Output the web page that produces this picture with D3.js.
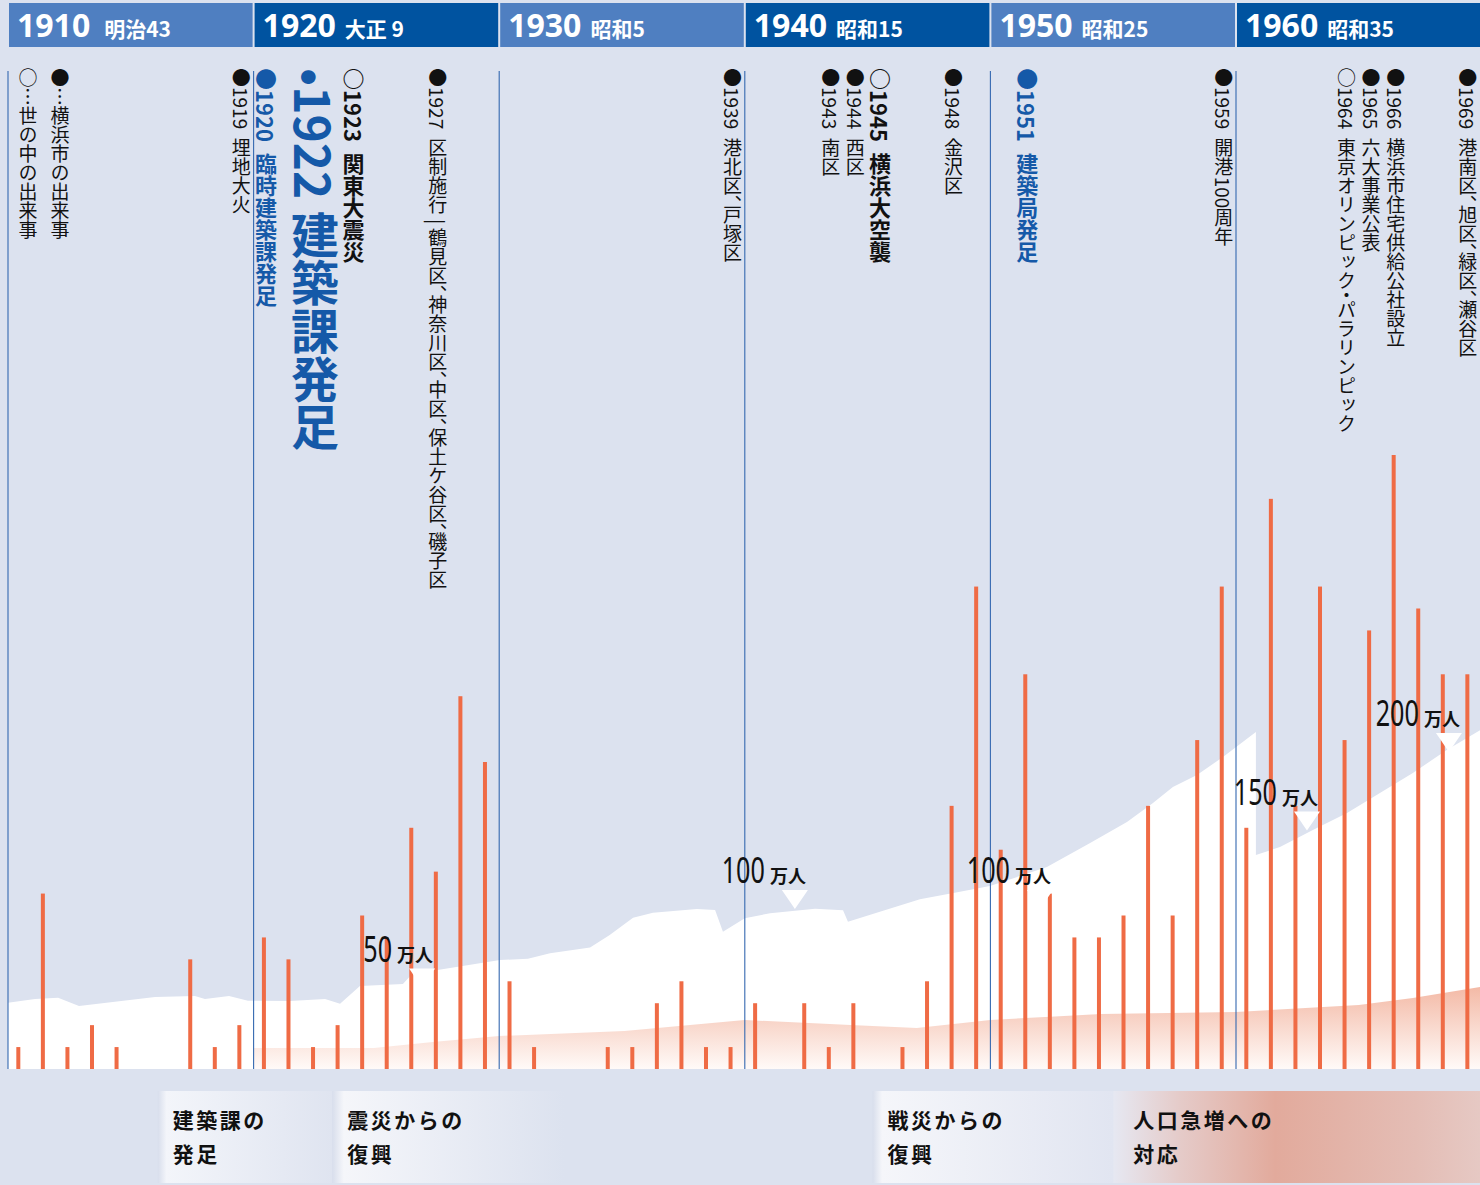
<!DOCTYPE html>
<html><head><meta charset="utf-8">
<script src="https://cdn.jsdelivr.net/npm/d3@7"></script>
<style>
body{margin:0;background:#dce2ef;}
svg{display:block;}
</style></head><body>
<svg id="chart" width="1480" height="1185"></svg>
<script>
// ---------------- DATA ----------------
const decades = [1910, 1920, 1930, 1940, 1950, 1960];
const eraLabels = ["明治43", "大正 9", "昭和5", "昭和15", "昭和25", "昭和35"];

const barYears = d3.range(1910, 1970);
const barCounts = [1,8,1,2,1,0,0,5,1,2, 6,5,1,2,7,6,11,9,17,14,
                   4,1,0,0,1,1,3,4,1,1, 3,0,3,1,3,0,1,4,12,22,
                   10,18,8,6,6,7,12,7,15,22, 11,26,12,22,15,20,28,21,18,18];

// population (万人) outline
const popYears  = [1910.0,1911.1,1912.04,1912.89,1915.99,1917.61,1918.02,1919.0,1919.77,1921.48,1922.91,1923.52,1924.33,1926.08,1926.49,1927.3,
                   1930.03,1931.17,1932.07,1933.7,1934.5,1935.45,1936.26,1938.05,1938.79,1939.11,1940.0,1941.03,1942.86,1944.0,1944.2,1945.5,1947.13,1948.76,
                   1949.98,1952.3,1954.06,1955.56,1956.62,1957.43,1958.41,1959.47,1960.81,1960.81,1961.79,1963.13,1964.52,1965.86,1967.2,1968.58,1969.95];
const popValues = [40.3,42.7,43.5,38.2,43.9,44.6,42.7,44.6,41.6,41.4,42.7,39.7,51.0,52.2,59.2,60.7,
                   67.5,68.3,71.8,75.4,83.4,94.5,97.6,100.0,99.4,85.5,94.1,97.3,100.2,99.2,91.9,98.3,106.2,111.0,
                   114.6,126.8,142.0,155.4,167.5,177.7,185.4,196.8,212.7,134.4,139.5,150.3,161.1,173.9,186.6,201.3,214.0];

// lower shaded series
const subYears  = [1920.0,1924.9,1927.3,1930.0,1935.1,1940.0,1944.3,1947.0,1950.0,1954.5,1960.0,1965.0,1967.2,1969.95];
const subValues = [21,21,27,33,38,49,44,41,49,55,57,64,71,82];

// population milestones
const markValues = [50, 100, 100, 150, 200];
const markYears  = [1926.86, 1942.04, 1952.02, 1962.89, 1968.67];

// events
const eventYears = [1919,1920,1922,1923,1927,1939,1943,1944,1945,1948,1951,1959,1964,1965,1966,1969];
const eventKinds = ["city","bureau","bureauMajor","worldMajor","city","city","city","city","worldMajor","city","bureau","city","world","city","city","city"];
const eventTexts = ["埋地大火","臨時建築課発足","建築課発足","関東大震災",
  "区制施行 | 鶴見区、神奈川区、中区、保土ケ谷区、磯子区","港北区、戸塚区","南区","西区","横浜大空襲","金沢区",
  "建築局発足","開港100周年","東京オリンピック・パラリンピック","六大事業公表","横浜市住宅供給公社設立","港南区、旭区、緑区、瀬谷区"];

const legendTexts = ["○…世の中の出来事", "●…横浜市の出来事"];

// phases
const phaseLines = [["建築課の","発足"],["震災からの","復興"],["戦災からの","復興"],["人口急増への","対応"]];
const phaseStart = [1916.1, 1923.2, 1945.2, 1955.0];
const phaseEnd   = [1923.2, 1935.0, 1955.0, 1970.0];

// ---------------- LAYOUT ----------------
const W = 1480, H = 1185;
const plotTop = 71, plotBottom = 1069;
const jp = "'Noto Sans CJK JP','Noto Sans',sans-serif";
const blue = "#1559a8", orange = "#ef6b45";

const svg = d3.select("#chart");
const x = d3.scaleLinear().domain([1910, 1970]).range([8, 1481.6]);
const yBar = d3.scaleLinear().domain([0, 28]).range([plotBottom, 455]);
const yPop = d3.scaleLinear().domain([0, 200]).range([1066, 752]);
const ySub = d3.scaleLinear().domain([0, 100]).range([plotBottom, 969]);

svg.append("rect").attr("width", W).attr("height", H).attr("fill", "#dce2ef");

const defs = svg.append("defs");
const pg = defs.append("linearGradient").attr("id","subGrad").attr("gradientUnits","userSpaceOnUse")
  .attr("x1",0).attr("x2",0).attr("y1",985).attr("y2",plotBottom);
pg.append("stop").attr("offset","0").attr("stop-color","#f3b8a4");
pg.append("stop").attr("offset","1").attr("stop-color","#fffaf8");

// population area (white)
const popData = popYears.map((yr,i)=>({year:yr, value:popValues[i]}));
svg.append("path").datum(popData)
  .attr("d", d3.area().x(d=>x(d.year)).y0(plotBottom).y1(d=>yPop(d.value)))
  .attr("fill", "#ffffff");

// lower series area
const subData = subYears.map((yr,i)=>({year:yr, value:subValues[i]}));
svg.append("path").datum(subData)
  .attr("d", d3.area().x(d=>x(d.year)).y0(plotBottom).y1(d=>ySub(d.value)))
  .attr("fill", "url(#subGrad)");

// decade lines
svg.append("g").selectAll("line").data(decades).join("line")
  .attr("x1", d=>x(d)).attr("x2", d=>x(d))
  .attr("y1", plotTop).attr("y2", plotBottom)
  .attr("stroke", "#3468b0").attr("stroke-width", 1.1);

// bars
svg.append("g").selectAll("rect").data(barYears.map((yr,i)=>({year:yr, n:barCounts[i]})).filter(d=>d.n>0)).join("rect")
  .attr("x", d=>x(d.year+0.42)-2).attr("width", 4)
  .attr("y", d=>yBar(d.n)).attr("height", d=>plotBottom - yBar(d.n))
  .attr("fill", orange);

// milestones
const mk = svg.append("g");
markValues.forEach((v,i)=>{
  const cx = x(markYears[i]), ty = yPop(v);
  mk.append("path").attr("d", `M${cx-13},${ty-19}L${cx+13},${ty-19}L${cx},${ty}Z`).attr("fill","#fff");
  mk.append("text").attr("transform", `translate(${cx-30},${ty-26}) scale(0.7,1)`)
    .attr("text-anchor","end").attr("font-family","'Noto Sans',sans-serif").attr("font-size",36)
    .attr("fill","#111").text(v);
  mk.append("text").attr("x", cx+11).attr("y", ty-26).attr("text-anchor","end")
    .attr("font-family", jp).attr("font-weight",700).attr("font-size",18).attr("fill","#111").text("万人");
});

// events (vertical text)
const ev = svg.append("g");
const tweak = {1923: 14, 1969: -1.5};
const kindStyle = {
  city:        {mark:"●", size:19, weight:400, fill:"#111", sep:"\u2002"},
  world:       {mark:"○", size:19, weight:400, fill:"#111", sep:"\u2002"},
  worldMajor:  {mark:"○", size:22, weight:700, fill:"#111", sep:"\u2002"},
  bureau:      {mark:"●", size:22, weight:700, fill:blue, sep:"\u2002"},
  bureauMajor: {mark:"•", size:48, weight:700, fill:blue, sep:" "}
};
eventYears.forEach((yr,i)=>{
  const s = kindStyle[eventKinds[i]];
  ev.append("text")
    .attr("x", x(yr+0.42) + 2 + (tweak[yr]||0)).attr("y", 68)
    .style("writing-mode","vertical-rl")
    .style("font-feature-settings","'vhal' 1")
    .attr("font-family", jp).attr("font-size", s.size).attr("font-weight", s.weight)
    .attr("fill", s.fill)
    .text(s.mark + yr + s.sep + eventTexts[i]);
});
legendTexts.forEach((t,i)=>{
  ev.append("text").attr("x", x(1910) + 20 + i*32).attr("y", 68)
    .style("writing-mode","vertical-rl")
    .attr("font-family", jp).attr("font-size", 19).attr("fill","#111").text(t);
});

// header
const hd = svg.append("g");
decades.forEach((d,i)=>{
  hd.append("rect").attr("x", x(d)+1).attr("y",3).attr("width", x(d+10)-x(d)-2).attr("height",44)
    .attr("fill", i%2===0 ? "#4f7fc1" : "#0053a0");
  const t = hd.append("text").attr("x", x(d)+9).attr("y", 37).attr("fill","#fff");
  t.append("tspan").attr("font-family","'Noto Sans',sans-serif").attr("font-weight",700).attr("font-size",32).text(d);
  t.append("tspan").attr("dx", i===0?14:9).attr("font-family", jp).attr("font-weight",700).attr("font-size",21).text(eraLabels[i]);
});

// phases
const ph = svg.append("g");
const gStops = [
  [[0,"#d8deec"],[0.05,"#f3f5fa"],[1,"#dfe4f0"]],
  [[0,"#d8deec"],[0.04,"#f5f6fa"],[0.8,"#dce2ef"],[1,"#dce2ef"]],
  [[0,"#d8deec"],[0.04,"#f5f6fa"],[1,"#e1e5f1"]],
  [[0,"#e6e8f2"],[0.18,"#e5cbc9"],[0.44,"#e2aa9c"],[0.82,"#e4bdb5"],[1,"#e6c9c4"]]
];
phaseLines.forEach((lines,i)=>{
  const g = defs.append("linearGradient").attr("id","ph"+i).attr("x1",0).attr("x2",1).attr("y1",0).attr("y2",0);
  gStops[i].forEach(s=>g.append("stop").attr("offset",s[0]).attr("stop-color",s[1]));
  const x0 = x(phaseStart[i]), x1 = x(phaseEnd[i]);
  ph.append("rect").attr("x",x0).attr("y",1091).attr("width",x1-x0).attr("height",92).attr("fill",`url(#ph${i})`);
  lines.forEach((ln,j)=>{
    ph.append("text").attr("x", x0 + (i===3?20:15)).attr("y", 1128 + j*34)
      .attr("font-family", jp).attr("font-weight",700).attr("font-size",21)
      .attr("letter-spacing",2.5).attr("fill","#111").text(ln);
  });
});
</script>
</body></html>
